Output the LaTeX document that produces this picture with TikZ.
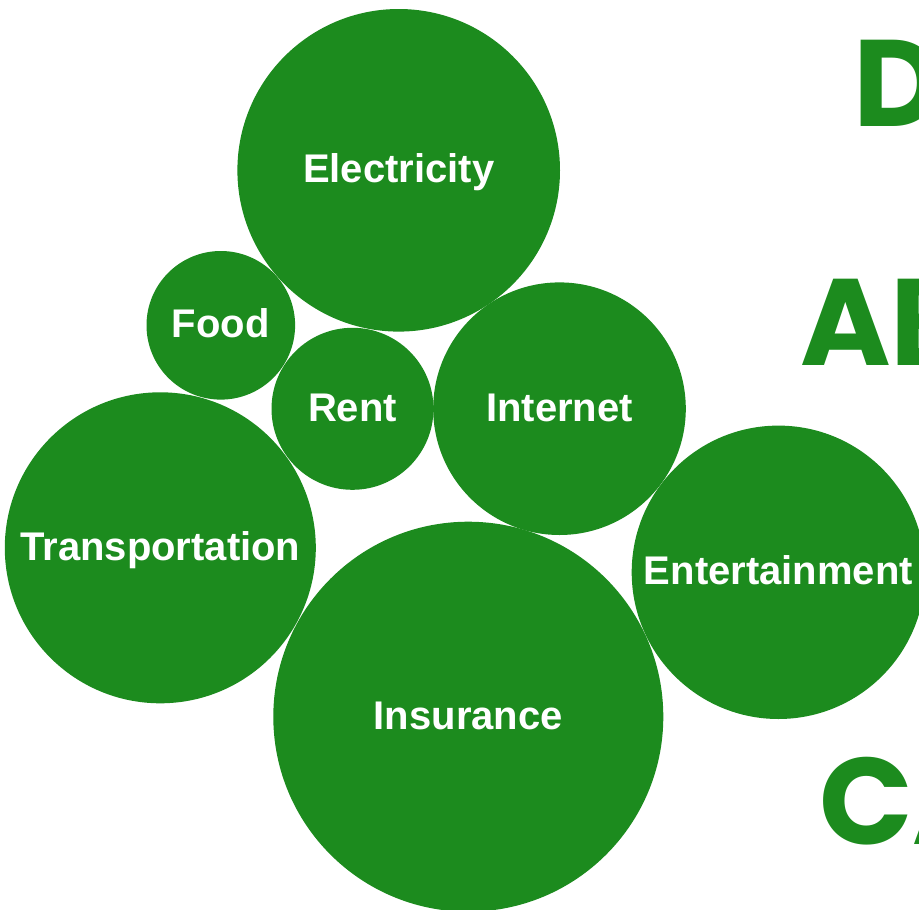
\documentclass[tikz,border=0pt]{standalone}
\usepackage{fontspec}
\setmainfont{Liberation Sans}
\newfontfamily\bigfont{Poppins}
\definecolor{leaf}{RGB}{28,139,30}
\begin{document}
\begin{tikzpicture}[x=1pt,y=-1pt,
    bubble/.style={circle,fill=leaf,inner sep=0pt,text=white,font=\fontsize{40}{40}\selectfont\bfseries,text height=24.8pt,text depth=0pt},
    bigword/.style={text=leaf,inner sep=0pt,anchor=base west,font=\bigfont\fontsize{123}{123}\selectfont\bfseries}]
    \useasboundingbox (0,0) rectangle (919,910);
    \node[bubble,minimum size=322.6pt] (elec) at (398.7,170.3) {Electricity};
    \node[bubble,minimum size=148.6pt] (food) at (220.8,325.3) {Food};
    \node[bubble,minimum size=162pt] (rent) at (352.5,408.8) {Rent};
    \node[bubble,minimum size=252.6pt] (inet) at (559.5,408.7) {Internet};
    \node[bubble,minimum size=311pt] (trans) at (160.3,547.8) {Transportation};
    \node[bubble,minimum size=390pt] (insur) at (468.3,716.7) {Insurance};
    \node[bubble,minimum size=293.4pt] (ent) at (778.4,572.3) {Entertainment};
    \node[bigword] (wd) at (853,126) {D};
    \node[bigword] (wab) at (800,365) {AB};
    \node[bigword] (wca) at (819,844) {CA};
\end{tikzpicture}
\end{document}
